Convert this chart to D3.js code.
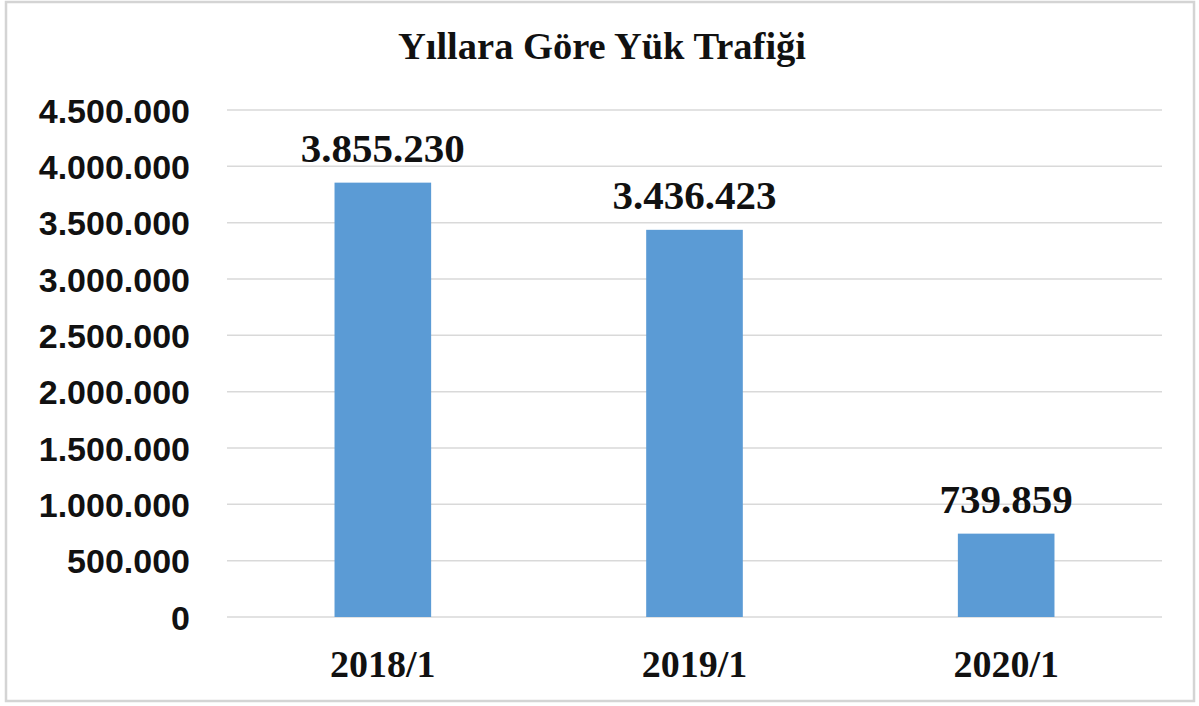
<!DOCTYPE html>
<html>
<head>
<meta charset="utf-8">
<script src="https://cdn.jsdelivr.net/npm/d3@7"></script>
<style>
  html, body { margin: 0; padding: 0; background: #fff; }
  svg { display: block; }
</style>
</head>
<body>
<svg id="chart" width="1199" height="706"></svg>
<script>
const title = "Yıllara Göre Yük Trafiği";
const categories = ["2018/1", "2019/1", "2020/1"];
const values = [3855230, 3436423, 739859];
const yTicks = [0, 500000, 1000000, 1500000, 2000000, 2500000, 3000000, 3500000, 4000000, 4500000];

const W = 1199, H = 706;
const margin = { left: 227, right: 37, top: 110, bottom: 89 };
const svg = d3.select("#chart");

// outer border
svg.append("rect")
  .attr("x", 6).attr("y", 2).attr("width", 1188).attr("height", 699)
  .attr("fill", "#fff").attr("stroke", "#d4d4d4").attr("stroke-width", 2.5);

const x = d3.scaleBand().domain(categories)
  .range([margin.left, W - margin.right])
  .paddingInner(0.69).paddingOuter(0.345);
const y = d3.scaleLinear().domain([0, 4500000]).range([H - margin.bottom, margin.top]);

const fmt = v => d3.format(",")(v).replace(/,/g, ".");

// gridlines
svg.append("g").selectAll("line").data(yTicks).join("line")
  .attr("x1", margin.left).attr("x2", W - margin.right)
  .attr("y1", d => y(d)).attr("y2", d => y(d))
  .attr("stroke", "#d9d9d9").attr("stroke-width", 1.5);

// y axis labels
const yAxis = d3.axisLeft(y).tickValues(yTicks).tickFormat(fmt).tickSize(0).tickPadding(0);
const gy = svg.append("g").attr("transform", `translate(190,0)`).call(yAxis);
gy.select(".domain").remove();
gy.selectAll("text")
  .attr("font-family", "'Liberation Sans', Arial, sans-serif")
  .attr("font-weight", "bold").attr("font-size", 34).attr("fill", "#111")
  .attr("dy", "0.36em");

// bars
svg.append("g").selectAll("rect").data(values).join("rect")
  .attr("x", (d, i) => x(categories[i]))
  .attr("width", x.bandwidth())
  .attr("y", d => y(d))
  .attr("height", d => y(0) - y(d))
  .attr("fill", "#5b9bd5");

// data labels
svg.append("g").selectAll("text").data(values).join("text")
  .attr("x", (d, i) => x(categories[i]) + x.bandwidth() / 2)
  .attr("y", d => y(d) - 21)
  .attr("text-anchor", "middle")
  .attr("font-family", "'Liberation Serif', 'Times New Roman', serif")
  .attr("font-weight", "bold").attr("font-size", 41).attr("fill", "#111")
  .text(d => fmt(d));

// x axis labels
const xAxis = d3.axisBottom(x).tickSize(0).tickPadding(0);
const gx = svg.append("g").attr("transform", `translate(0,${y(0)})`).call(xAxis);
gx.select(".domain").remove();
gx.selectAll("text")
  .attr("font-family", "'Liberation Serif', 'Times New Roman', serif")
  .attr("font-weight", "bold").attr("font-size", 38).attr("fill", "#111")
  .attr("y", 60).attr("dy", 0);

// title
svg.append("text")
  .attr("x", 602).attr("y", 59)
  .attr("text-anchor", "middle")
  .attr("font-family", "'Liberation Serif', 'Times New Roman', serif")
  .attr("font-weight", "bold").attr("font-size", 38.5).attr("fill", "#111")
  .text(title);
</script>
</body>
</html>
